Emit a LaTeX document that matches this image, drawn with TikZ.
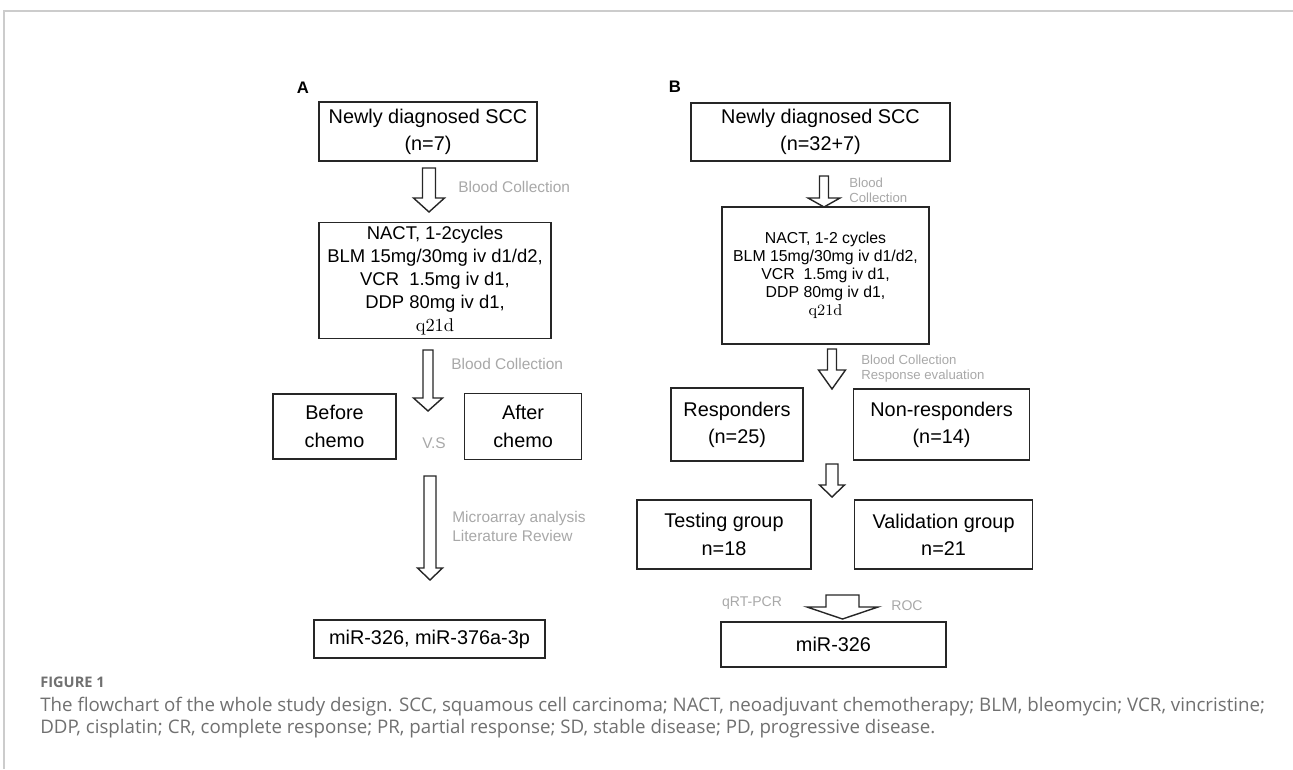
\documentclass[tikz,border=0pt]{standalone}
\usepackage{fontspec}
\setsansfont{Liberation Sans}
\newfontfamily\capfont{Open Sans}
\usetikzlibrary{calc, positioning}
\definecolor{labelgray}{HTML}{A8A8A8}
\definecolor{captiongray}{HTML}{707070}
\definecolor{framegray}{HTML}{CCCCCC}
\tikzstyle{box} = [rectangle, draw=black!85, line width=0.9pt, align=center, inner sep=0pt, font=\sffamily\fontsize{11.3}{15.5}\selectfont]
\tikzstyle{smallbox} = [box, font=\sffamily\fontsize{9}{10.2}\selectfont]
\tikzstyle{note} = [text=labelgray, align=left, inner sep=0pt, anchor=west, font=\sffamily\fontsize{8.8}{10.8}\selectfont]
\tikzstyle{smallnote} = [note, font=\sffamily\fontsize{7.5}{8.8}\selectfont]
\tikzstyle{panel} = [inner sep=0pt, font=\sffamily\bfseries\fontsize{9.5}{11}\selectfont]
\tikzstyle{hollow} = [draw=black!85, line width=0.8pt, fill=white, line join=miter]
\newcommand{\hollowarrow}[5]{%
	\draw [hollow] let \p1=(#1), \p2=(#2) in
		(\x1-#3,\y1) -- (\x1+#3,\y1) -- (\x1+#3,\y2+#5) -- (\x1+#4,\y2+#5)
		-- (\x1,\y2) -- (\x1-#4,\y2+#5) -- (\x1-#3,\y2+#5) -- cycle;}

\begin{document}
\begin{tikzpicture}
		\useasboundingbox (0,0) rectangle (25.86,-15.38);
		\draw [framegray, line width=1pt] (0.08,-15.38) -- (0.08,-0.22) -- (25.86,-0.22);
		% panel A
		\node (labelA) [panel] at (6.06,-1.76) {A};
		\node (NewlyA) [box, minimum width=4.36cm, minimum height=1.18cm] at (8.56,-2.63) {Newly diagnosed SCC\\(n=7)};
		\node (NactA) [box, minimum width=4.64cm, minimum height=2.32cm, font=\sffamily\fontsize{10.5}{13}\selectfont, below=1.2cm of NewlyA, xshift=0.14cm] {NACT, 1-2cycles\\BLM 15mg/30mg iv d1/d2,\\VCR \ 1.5mg iv d1,\\DDP 80mg iv d1,\\{\rmfamily q21d}};
		\node (Before) [box, minimum width=2.46cm, minimum height=1.30cm] at (6.69,-8.53) {Before\\chemo};
		\node (After) [box, minimum width=2.34cm, minimum height=1.32cm, right=1.34cm of Before] {After\\chemo};
		\node (VS) [note, anchor=center] at (8.68,-8.86) {V.S};
		\node (MirA) [box, minimum width=4.62cm, minimum height=0.76cm] at (8.59,-12.78) {miR-326, miR-376a-3p};
		\node (noteA1) [note] at (9.16,-3.74) {Blood Collection};
		\node (noteA2) [note] at (9.02,-7.28) {Blood Collection};
		\node (noteA3) [note] at (9.04,-10.53) {Microarray analysis\\Literature Review};
		\coordinate (a1top) at (8.58,-3.36);
		\coordinate (a1tip) at (8.58,-4.24);
		\coordinate (a2top) at (8.56,-7.00);
		\coordinate (a2tip) at (8.56,-8.22);
		\coordinate (a3top) at (8.60,-9.52);
		\coordinate (a3tip) at (8.60,-11.60);
		\hollowarrow{a1top}{a1tip}{0.13cm}{0.31cm}{0.28cm}
		\hollowarrow{a2top}{a2tip}{0.10cm}{0.29cm}{0.26cm}
		\hollowarrow{a3top}{a3tip}{0.12cm}{0.25cm}{0.24cm}
		% panel B
		\node (labelB) [panel] at (13.5,-1.74) {B};
		\node (NewlyB) [box, minimum width=5.18cm, minimum height=1.16cm] at (16.41,-2.64) {Newly diagnosed SCC\\(n=32+7)};
		\node (NactB) [smallbox, minimum width=4.14cm, minimum height=2.74cm] at (16.51,-5.51) {NACT, 1-2 cycles\\BLM 15mg/30mg iv d1/d2,\\VCR \ 1.5mg iv d1,\\DDP 80mg iv d1,\\{\rmfamily q21d}};
		\node (Resp) [box, minimum width=2.64cm, minimum height=1.46cm] at (14.74,-8.49) {Responders\\(n=25)};
		\node (NonResp) [box, minimum width=3.52cm, minimum height=1.42cm, right=0.98cm of Resp] {Non-responders\\(n=14)};
		\node (Testing) [box, minimum width=3.48cm, minimum height=1.38cm] at (14.48,-10.69) {Testing group\\n=18};
		\node (Validation) [box, minimum width=3.56cm, minimum height=1.38cm, right=0.84cm of Testing] {Validation group\\n=21};
		\node (MirB) [box, minimum width=4.5cm, minimum height=0.9cm] at (16.67,-12.89) {miR-326};
		\node (noteB1) [smallnote] at (16.98,-3.81) {Blood\\Collection};
		\node (noteB2) [smallnote] at (17.22,-7.37) {Blood Collection\\Response evaluation};
		\node (qrt) [note, anchor=center, font=\sffamily\fontsize{8}{9}\selectfont] at (15.04,-12.06) {qRT-PCR};
		\node (roc) [note, font=\sffamily\fontsize{8}{9}\selectfont] at (17.82,-12.12) {ROC};
		\coordinate (b1top) at (16.48,-3.52);
		\coordinate (b1tip) at (16.48,-4.14);
		\coordinate (b2top) at (16.64,-6.98);
		\coordinate (b2tip) at (16.64,-7.78);
		\coordinate (b3top) at (16.64,-9.28);
		\coordinate (b3tip) at (16.64,-9.94);
		\coordinate (b4top) at (16.85,-11.90);
		\coordinate (b4tip) at (16.85,-12.38);
		\hollowarrow{b1top}{b1tip}{0.09cm}{0.32cm}{0.18cm}
		\hollowarrow{b2top}{b2tip}{0.09cm}{0.27cm}{0.38cm}
		\hollowarrow{b3top}{b3tip}{0.12cm}{0.25cm}{0.24cm}
		\hollowarrow{b4top}{b4tip}{0.33cm}{0.71cm}{0.24cm}
		% caption
		\node (figlabel) [anchor=base west, inner sep=0pt, text=captiongray, font=\capfont\bfseries\fontsize{8.3}{9}\selectfont] at (0.8,-13.75) {FIGURE 1};
		\node (caption) [anchor=base west, inner sep=0pt, align=left, text=captiongray, font=\capfont\fontsize{10.65}{12.5}\selectfont] at (0.8,-14.66) {The flowchart of the whole study design. SCC, squamous cell carcinoma; NACT, neoadjuvant chemotherapy; BLM, bleomycin; VCR, vincristine;\\DDP, cisplatin; CR, complete response; PR, partial response; SD, stable disease; PD, progressive disease.};
	\end{tikzpicture}
\end{document}
